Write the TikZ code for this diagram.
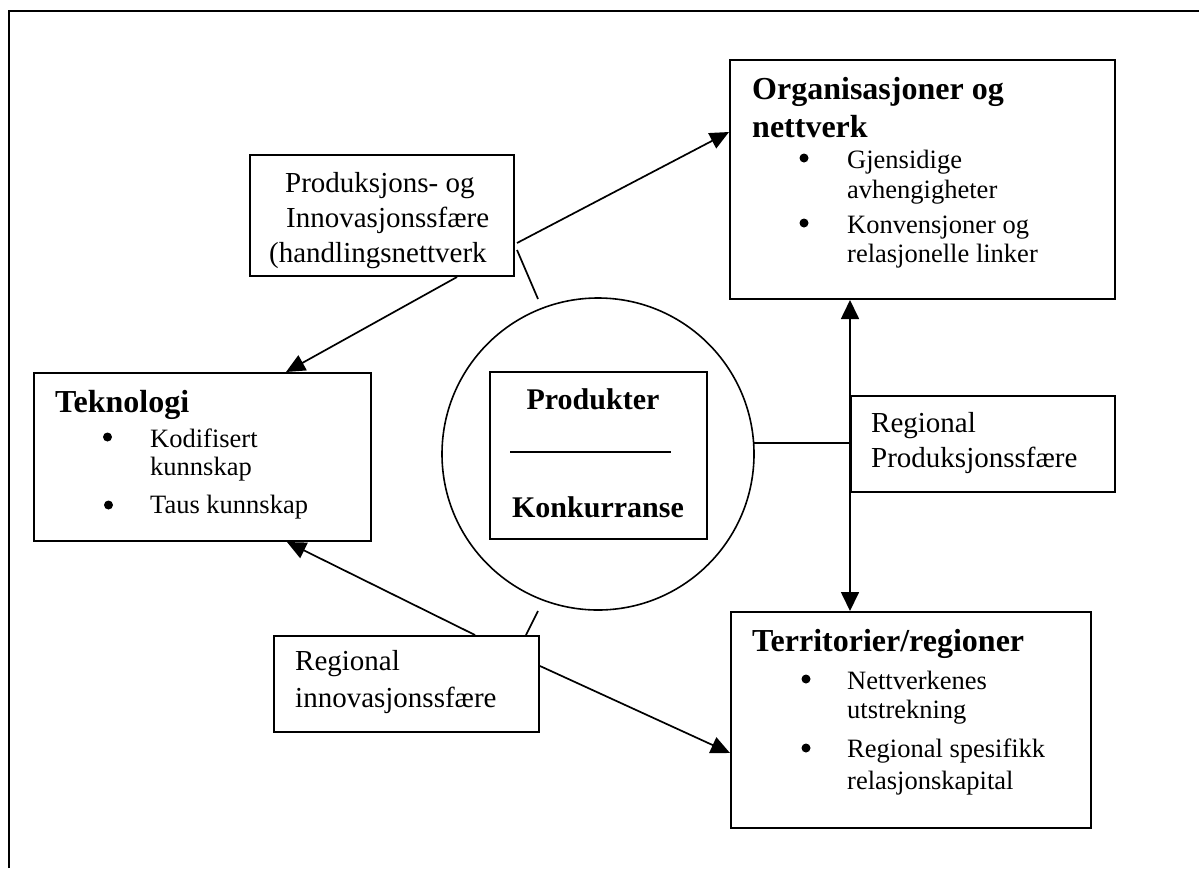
\documentclass[tikz,border=0pt]{standalone}
\usepackage{fontspec}
\setmainfont{Liberation Serif}
\usetikzlibrary{arrows.meta,calc}
\newcommand\bodyfnt{\fontsize{26.5}{30}\selectfont}
\newcommand\lblfnt{\fontsize{29}{35}\selectfont}
\newcommand\ttlfnt{\fontsize{32}{38}\selectfont\bfseries}
\newcommand\ctrfnt{\fontsize{30}{36}\selectfont\bfseries}
\begin{document}
\begin{tikzpicture}[x=1pt,y=-1pt,
  box/.style={draw,line width=2pt,rectangle,inner sep=0pt,anchor=north west},
  conn/.style={line width=1.7pt},
  arr/.style={conn,-{Triangle[length=19pt,width=17pt]}},
  dblarr/.style={conn,{Triangle[length=19pt,width=18pt]}-{Triangle[length=19pt,width=18pt]}},
  body/.style={anchor=base west,inner sep=0pt,font=\bodyfnt},
  lbl/.style={anchor=base west,inner sep=0pt,font=\lblfnt},
  ttl/.style={anchor=base west,inner sep=0pt,font=\ttlfnt},
  ctr/.style={anchor=base,inner sep=0pt,font=\ctrfnt},
  blt/.style={circle,fill=black,inner sep=0pt,minimum size=9pt}]
\useasboundingbox (0,0) rectangle (1199,868);
\fill[white] (0,0) rectangle (1199,868);
% outer frame (only top and left visible)
\draw[line width=2pt] (9.3,868) -- (9.3,10.7) -- (1199,10.7);

% boxes
\node[box,minimum width=385pt,minimum height=239pt] (org) at (729,59) {};
\node[box,minimum width=337pt,minimum height=168pt] (tek) at (33,372) {};
\node[box,minimum width=360pt,minimum height=216pt] (ter) at (730,611) {};
\node[box,minimum width=264pt,minimum height=96pt] (rps) at (850,395) {};
\node[box,minimum width=264pt,minimum height=121pt] (pis) at (249,154) {};
\node[box,minimum width=265pt,minimum height=96pt] (ris) at (273,635) {};
\node[draw,circle,line width=1.6pt,minimum size=312pt,inner sep=0pt] (circ) at (598,454) {};
\node[box,minimum width=217pt,minimum height=167pt] (core) at (489,371) {};

% centre text
\node[ctr] (prodt) at (593,409) {Produkter};
\node[ctr] (konk) at (598,517) {Konkurranse};
\draw[line width=1.8pt] ($(core.north west)+(21,81)$) -- ($(core.north west)+(182,81)$);

% Organisasjoner og nettverk
\node[ttl] (org1) at (752,99) {Organisasjoner og};
\node[ttl] (org2) at (752,137) {nettverk};
\node[blt] (orgb1) at (804,158) {};
\node[body] (org3) at (847,168) {Gjensidige};
\node[body] (org4) at (847,198) {avhengigheter};
\node[blt] (orgb2) at (804,223) {};
\node[body] (org5) at (847,233) {Konvensjoner og};
\node[body] (org6) at (847,262) {relasjonelle linker};

% Teknologi
\node[ttl] (tek1) at (55,412) {Teknologi};
\node[blt] (tekb1) at (107.5,437) {};
\node[body] (tek2) at (150,447) {Kodifisert};
\node[body] (tek3) at (150,475) {kunnskap};
\node[blt] (tekb2) at (108.5,505) {};
\node[body] (tek4) at (150,513) {Taus kunnskap};

% Territorier/regioner
\node[ttl] (ter1) at (752,651) {Territorier/regioner};
\node[blt] (terb1) at (806,679) {};
\node[body] (ter2) at (847,689) {Nettverkenes};
\node[body] (ter3) at (847,718) {utstrekning};
\node[blt] (terb2) at (806,748) {};
\node[body] (ter4) at (847,757) {Regional spesifikk};
\node[body] (ter5) at (847,789) {relasjonskapital};

% label boxes
\node[lbl] (rps1) at (871,432) {Regional};
\node[lbl] (rps2) at (871,467) {Produksjonssfære};
\node[lbl] (pis1) at (285,192) {Produksjons- og};
\node[lbl] (pis2) at (286,227) {Innovasjonssfære};
\node[lbl] (pis3) at (269,262) {(handlingsnettverk};
\node[lbl] (ris1) at (295,670) {Regional};
\node[lbl] (ris2) at (295,707) {innovasjonssfære};

% connectors
\draw[arr] ($(pis.north east)+(2,89)$) -- ($(org.north west)+(0,73)$);
\draw[arr] ($(pis.south west)+(208,0)$) -- ($(tek.north west)+(253,0)$);
\draw[conn] ($(pis.north east)+(2,96)$) -- ($(circ.center)+(-60,-155)$);
\draw[conn] (circ.4) -- (rps.west |- circ.4);
\draw[dblarr] (org.south -| rps.west) -- (ter.north -| rps.west);
\draw[arr] ($(ris.north west)+(202,0)$) -- ($(tek.south west)+(254,0)$);
\draw[conn] ($(ris.north west)+(253,0)$) -- ($(circ.center)+(-60,157)$);
\draw[arr] ($(ris.north east)+(0,31)$) -- ($(ter.north west)+(0,142)$);
\end{tikzpicture}
\end{document}
